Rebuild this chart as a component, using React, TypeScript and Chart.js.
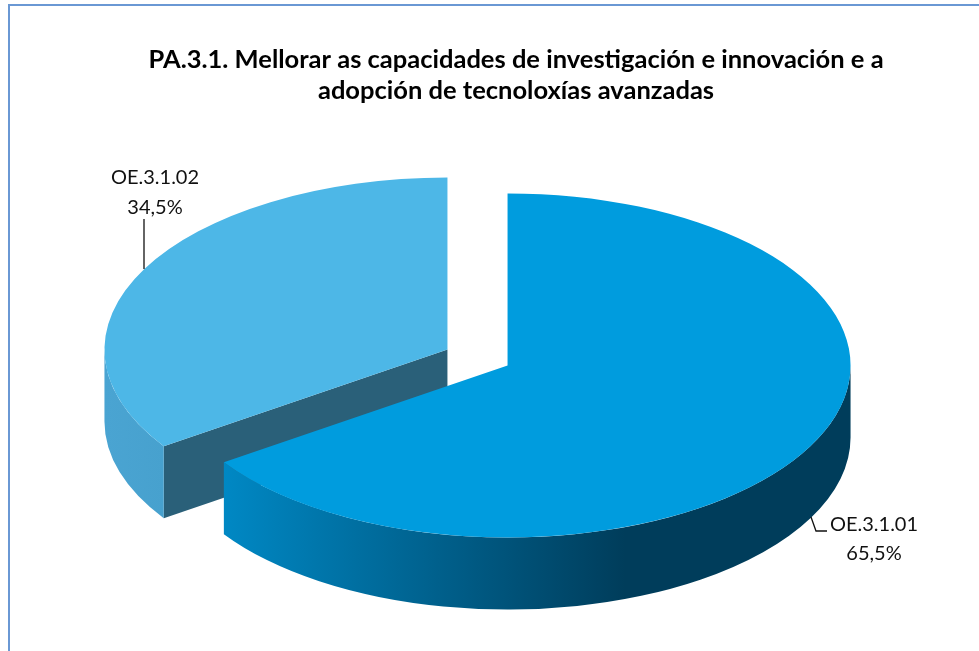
import React, { useEffect, useRef } from "react";
import { Chart, registerables } from "chart.js";

Chart.register(...registerables);

const categories = ["OE.3.1.01", "OE.3.1.02"];
const shares = [65.5, 34.5];
const titleLines = [
  "PA.3.1. Mellorar as capacidades de investigación e innovación e a",
  "adopción de tecnoloxías avanzadas",
];
const topColors = ["#009cde", "#4db7e7"];

const CANVAS_W = 1032;
const CANVAS_H = 651;
const RADIUS = 343;
const SQUASH = 172 / 343;
const EXPLODE = 34;
const DEPTH = 72;
const CENTER_X = 477.5;
const CENTER_Y = 357.5;
const FONT = "Lato, Carlito, sans-serif";

const labelSpots = [
  { x: 874, y: 525, dy: 29, line: [[811, 517], [816, 531], [827, 531]] },
  { x: 155, y: 178, dy: 30, line: [[144, 219], [144, 269]] },
];

const fmt = (v: number) => v.toFixed(1).replace(".", ",") + "%";

const pie3d = {
  id: "pie3d",
  afterDatasetsUpdate(chart: any) {
    const area = chart.chartArea;
    const shift = CENTER_X - (area.left + area.right) / 2;
    chart.getDatasetMeta(0).data.forEach((arc: any) => {
      const mid = (arc.startAngle + arc.endAngle) / 2;
      arc.x += shift + Math.cos(mid) * EXPLODE;
      arc.y += Math.sin(mid) * EXPLODE;
    });
  },
  beforeDraw(chart: any) {
    const ctx = chart.ctx;
    ctx.save();
    ctx.strokeStyle = "#6a98d4";
    ctx.lineWidth = 2;
    ctx.beginPath();
    ctx.moveTo(9, CANVAS_H);
    ctx.lineTo(9, 5);
    ctx.lineTo(CANVAS_W, 5);
    ctx.stroke();
    ctx.restore();
  },
  beforeDatasetsDraw(chart: any) {
    const ctx = chart.ctx;
    const area = chart.chartArea;
    const pivot = (area.top + area.bottom) / 2;
    const sy = (y: number) => CENTER_Y + (y - pivot) * SQUASH;
    const arcs = chart.getDatasetMeta(0).data;
    const order = [1, 0];
    ctx.save();
    order.forEach((i: number) => {
      const arc = arcs[i];
      const { x, y, startAngle: a0, endAngle: a1 } = arc;
      const cy = sy(y);
      const px = (a: number) => x + RADIUS * Math.cos(a);
      const py = (a: number) => cy + RADIUS * SQUASH * Math.sin(a);
      const faces = [
        { a: a0, n: a0 - Math.PI / 2 },
        { a: a1, n: a1 + Math.PI / 2 },
      ];
      faces.forEach((f) => {
        if (Math.sin(f.n) > 0.001) {
          ctx.fillStyle = "#2a6079";
          ctx.beginPath();
          ctx.moveTo(x, cy);
          ctx.lineTo(px(f.a), py(f.a));
          ctx.lineTo(px(f.a), py(f.a) + DEPTH);
          ctx.lineTo(x, cy + DEPTH);
          ctx.closePath();
          ctx.fill();
        }
      });
      const from = Math.max(a0, 0);
      const to = Math.min(a1, Math.PI);
      if (to > from) {
        const g = ctx.createLinearGradient(px(to), 0, px(from), 0);
        if (i === 0) {
          g.addColorStop(0, "#0088c4");
          g.addColorStop(0.64, "#003d5b");
          g.addColorStop(1, "#003d5b");
        } else {
          g.addColorStop(0, "#4aa4d2");
          g.addColorStop(1, "#47a1ce");
        }
        ctx.fillStyle = g;
        ctx.beginPath();
        ctx.ellipse(x, cy, RADIUS, RADIUS * SQUASH, 0, from, to, false);
        ctx.lineTo(px(to), py(to) + DEPTH);
        ctx.ellipse(x, cy + DEPTH, RADIUS, RADIUS * SQUASH, 0, to, from, true);
        ctx.closePath();
        ctx.fill();
      }
    });
    ctx.restore();
    ctx.save();
    ctx.translate(0, CENTER_Y - pivot * SQUASH);
    ctx.scale(1, SQUASH);
  },
  afterDatasetsDraw(chart: any) {
    const ctx = chart.ctx;
    ctx.restore();
    ctx.save();
    ctx.fillStyle = "#111111";
    ctx.strokeStyle = "#111111";
    ctx.lineWidth = 1.3;
    ctx.textAlign = "center";
    ctx.textBaseline = "middle";
    ctx.font = `20px ${FONT}`;
    categories.forEach((name, i) => {
      const s = labelSpots[i];
      ctx.fillText(name, s.x, s.y);
      ctx.fillText(fmt(shares[i]), s.x, s.y + s.dy);
      ctx.beginPath();
      s.line.forEach((p, k) => (k ? ctx.lineTo(p[0], p[1]) : ctx.moveTo(p[0], p[1])));
      ctx.stroke();
    });
    ctx.restore();
  },
};

export default function App() {
  const ref = useRef<HTMLCanvasElement | null>(null);
  useEffect(() => {
    document.body.style.margin = "0";
    document.body.style.overflow = "hidden";
    const chart = new Chart(ref.current as HTMLCanvasElement, {
      type: "pie",
      data: {
        labels: categories,
        datasets: [
          {
            data: shares,
            backgroundColor: topColors,
            borderWidth: 0,
            clip: false,
          } as any,
        ],
      },
      options: {
        responsive: false,
        animation: false,
        events: [],
        radius: RADIUS,
        plugins: {
          legend: { display: false },
          tooltip: { enabled: false },
          title: {
            display: true,
            text: titleLines,
            color: "#000000",
            font: { family: FONT, size: 25.5, weight: "bold", lineHeight: 1.22 },
            padding: { top: 44, bottom: 0 },
          },
        },
      } as any,
      plugins: [pie3d],
    });
    return () => chart.destroy();
  }, []);
  return (
    <div style={{ width: 979, height: 651, overflow: "hidden", background: "#fff" }}>
      <canvas ref={ref} width={CANVAS_W} height={CANVAS_H} style={{ display: "block" }} />
    </div>
  );
}
